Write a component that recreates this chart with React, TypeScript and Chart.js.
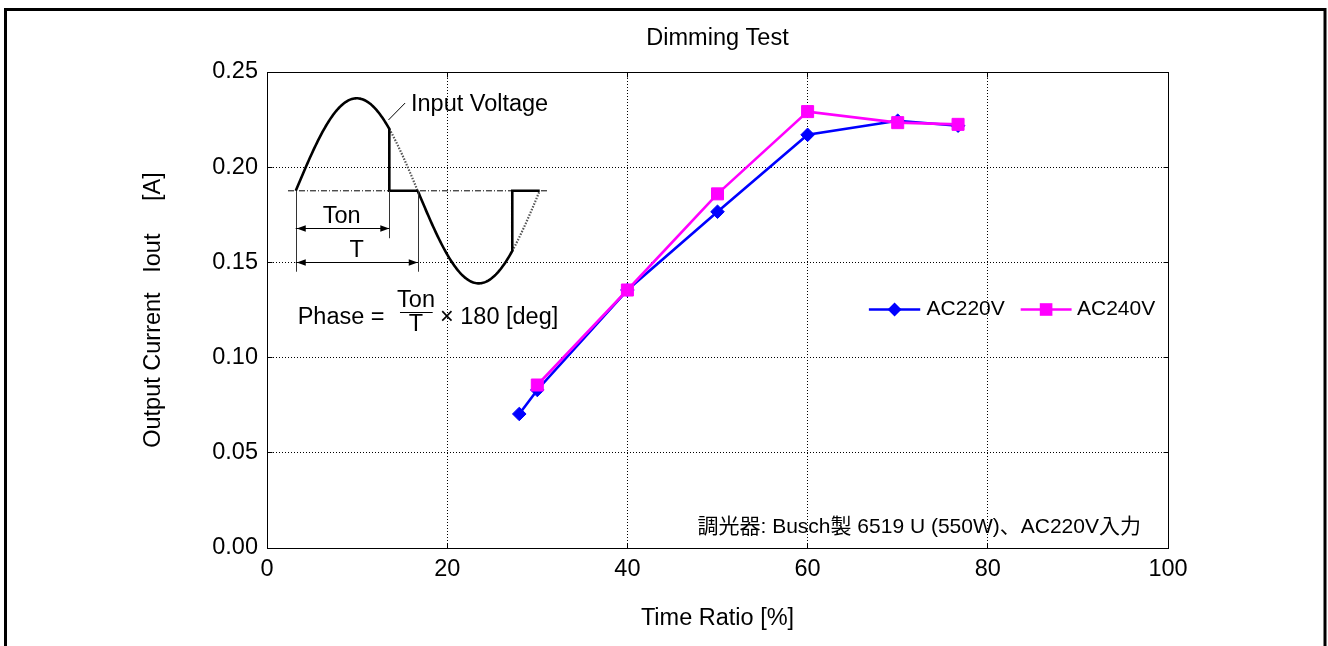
import React, { useEffect, useRef } from "react";
import { Chart, registerables } from "chart.js";

Chart.register(...registerables);

// ---- data ----
const seriesLabels = ["AC220V", "AC240V"];
const timeRatio220 = [28, 30, 40, 50, 60, 70, 76.7];
const current220 = [0.0704, 0.083, 0.1355, 0.1766, 0.217, 0.2244, 0.2218];
const timeRatio240 = [30, 40, 50, 60, 70, 76.7];
const current240 = [0.0856, 0.1355, 0.186, 0.2292, 0.2234, 0.2225];
const xTickValues = [0, 20, 40, 60, 80, 100];
const yTickValues = [0, 0.05, 0.1, 0.15, 0.2, 0.25];
const chartTitle = "Dimming Test";
const xAxisTitle = "Time Ratio [%]";
const yAxisTitle = "Output Current   Iout     [A]";
const noteText = "調光器: Busch製 6519 U (550W)、AC220V入力";

const FONT = '"Liberation Sans", Arial, sans-serif';
const FS = 23.5;
const BLUE = "#0000ff";
const MAGENTA = "#ff00ff";

function arrowHead(ctx: CanvasRenderingContext2D, x: number, y: number, dir: number) {
  ctx.beginPath();
  ctx.moveTo(x, y);
  ctx.lineTo(x - dir * 9, y - 3.2);
  ctx.lineTo(x - dir * 9, y + 3.2);
  ctx.closePath();
  ctx.fill();
}

const decorPlugin = {
  id: "decor",
  afterDraw(chart: any) {
    const ctx: CanvasRenderingContext2D = chart.ctx;
    const ca = chart.chartArea;
    const xs = chart.scales.x;
    const ys = chart.scales.y;
    const X = (v: number) => xs.getPixelForValue(v);
    const Y = (v: number) => ys.getPixelForValue(v);
    ctx.save();

    // outer frame
    ctx.strokeStyle = "#000";
    ctx.lineWidth = 3;
    ctx.setLineDash([]);
    ctx.strokeRect(5.5, 9.5, 1319.5, 700);

    // title
    ctx.fillStyle = "#000";
    ctx.font = `${FS}px ${FONT}`;
    ctx.textAlign = "center";
    ctx.textBaseline = "alphabetic";
    ctx.fillText(chartTitle, (ca.left + ca.right) / 2, 45);

    // plot box
    const L = Math.floor(ca.left) + 0.5;
    const T = Math.floor(ca.top) + 0.5;
    const R = Math.floor(ca.right) + 0.5;
    const B = Math.floor(ca.bottom) + 0.5;
    ctx.lineWidth = 1;
    ctx.strokeRect(L, T, R - L, B - T);
    // inner ticks
    ctx.beginPath();
    xTickValues.forEach((v) => {
      const px = Math.floor(X(v)) + 0.5;
      ctx.moveTo(px, B); ctx.lineTo(px, B - 5);
      ctx.moveTo(px, T); ctx.lineTo(px, T + 5);
    });
    yTickValues.forEach((v) => {
      const py = Math.floor(Y(v)) + 0.5;
      ctx.moveTo(L, py); ctx.lineTo(L + 5, py);
      ctx.moveTo(R, py); ctx.lineTo(R - 5, py);
    });
    ctx.stroke();

    // ---- inset diagram (in data units) ----
    const X0 = 3.19, H = 13.54, A = 0.0486, base = 0.1876;
    const cut1 = 0.767, cut2 = 0.775;
    const sinY = (x: number) => base + A * Math.sin((Math.PI * (x - X0)) / H);
    const path = (xa: number, xb: number) => {
      const n = 80;
      ctx.beginPath();
      for (let i = 0; i <= n; i++) {
        const x = xa + ((xb - xa) * i) / n;
        if (i === 0) ctx.moveTo(X(x), Y(sinY(x)));
        else ctx.lineTo(X(x), Y(sinY(x)));
      }
    };
    const c1 = X0 + cut1 * H;
    const c2 = X0 + H + cut2 * H;

    // dash-dot baseline
    ctx.setLineDash([6, 2, 1, 2]);
    ctx.lineWidth = 1;
    ctx.strokeStyle = "#000";
    ctx.beginPath();
    ctx.moveTo(X(2.33), Y(base));
    ctx.lineTo(X(31.08), Y(base));
    ctx.stroke();

    // dotted continuation
    ctx.setLineDash([1.5, 1.5]);
    ctx.strokeStyle = "#555";
    ctx.lineWidth = 2.2;
    path(c1, X0 + H); ctx.stroke();
    path(c2, X0 + 2 * H); ctx.stroke();

    // solid waveform
    ctx.setLineDash([]);
    ctx.strokeStyle = "#000";
    ctx.lineWidth = 2.6;
    ctx.lineJoin = "miter";
    path(X0, c1);
    ctx.lineTo(X(c1), Y(base));
    ctx.lineTo(X(X0 + H), Y(base));
    ctx.stroke();
    path(X0 + H, c2);
    ctx.lineTo(X(c2), Y(base));
    ctx.lineTo(X(X0 + 2 * H), Y(base));
    ctx.stroke();

    // extension lines
    ctx.lineWidth = 1;
    ctx.strokeStyle = "#333";
    ctx.beginPath();
    ctx.moveTo(Math.round(X(X0)) + 0.5, Y(base)); ctx.lineTo(Math.round(X(X0)) + 0.5, Y(0.1451));
    ctx.moveTo(Math.round(X(c1)) + 0.5, Y(base)); ctx.lineTo(Math.round(X(c1)) + 0.5, Y(0.1627));
    ctx.moveTo(Math.round(X(X0 + H)) + 0.5, Y(base)); ctx.lineTo(Math.round(X(X0 + H)) + 0.5, Y(0.1451));
    ctx.stroke();

    // dimension arrows
    ctx.strokeStyle = "#000";
    ctx.fillStyle = "#000";
    const yTon = Math.round(Y(0.1679)) + 0.5;
    const yT = Math.round(Y(0.15005)) + 0.5;
    ctx.beginPath();
    ctx.moveTo(X(X0), yTon); ctx.lineTo(X(c1), yTon);
    ctx.moveTo(X(X0), yT); ctx.lineTo(X(X0 + H), yT);
    ctx.stroke();
    arrowHead(ctx, X(X0) + 1, yTon, -1);
    arrowHead(ctx, X(c1), yTon, 1);
    arrowHead(ctx, X(X0) + 1, yT, -1);
    arrowHead(ctx, X(X0 + H), yT, 1);

    // leader line
    ctx.beginPath();
    ctx.moveTo(X(13.48), Y(0.2248));
    ctx.lineTo(X(15.33), Y(0.2337));
    ctx.stroke();

    // inset texts
    ctx.font = `${FS}px ${FONT}`;
    ctx.textBaseline = "alphabetic";
    ctx.textAlign = "left";
    ctx.fillText("Input Voltage", X(15.98), Y(0.2293));
    ctx.textAlign = "center";
    ctx.fillText("Ton", X(8.29), Y(0.1705));
    ctx.fillText("T", X(9.95), Y(0.153));
    ctx.textAlign = "left";
    ctx.fillText("Phase =", X(3.4), Y(0.1176));
    ctx.textAlign = "center";
    ctx.fillText("Ton", X(16.54), Y(0.1264));
    ctx.fillText("T", X(16.54), Y(0.1141));
    ctx.textAlign = "left";
    ctx.fillText("\u00d7 180 [deg]", X(19.2), Y(0.1176));
    ctx.lineWidth = 1.2;
    ctx.beginPath();
    const fy = Math.round(Y(0.1241)) + 0.5;
    ctx.moveTo(X(14.76), fy);
    ctx.lineTo(X(18.39), fy);
    ctx.stroke();

    // legend
    const ly = Math.round(Y(0.1254)) + 0.5;
    ctx.lineWidth = 2.6;
    ctx.strokeStyle = BLUE;
    ctx.fillStyle = BLUE;
    ctx.beginPath();
    ctx.moveTo(X(66.8), ly); ctx.lineTo(X(72.5), ly);
    ctx.stroke();
    const dx = X(69.65);
    ctx.beginPath();
    ctx.moveTo(dx - 7, ly); ctx.lineTo(dx, ly - 7); ctx.lineTo(dx + 7, ly); ctx.lineTo(dx, ly + 7);
    ctx.closePath(); ctx.fill();
    ctx.strokeStyle = MAGENTA;
    ctx.fillStyle = MAGENTA;
    ctx.beginPath();
    ctx.moveTo(X(83.65), ly); ctx.lineTo(X(89.3), ly);
    ctx.stroke();
    const sx = X(86.47);
    ctx.fillRect(sx - 6.3, ly - 6.3, 12.6, 12.6);
    ctx.fillStyle = "#000";
    ctx.font = `21px ${FONT}`;
    ctx.textAlign = "left";
    ctx.fillText(seriesLabels[0], X(73.2), ly + 5.7);
    ctx.fillText(seriesLabels[1], X(89.9), ly + 5.7);

    // note
    ctx.font = `21px ${FONT}, "Noto Sans CJK JP"`;
    ctx.textAlign = "right";
    ctx.fillText(noteText, X(97.0), Y(0.0077));

    ctx.restore();
  },
};

export default function App() {
  const ref = useRef<HTMLCanvasElement | null>(null);
  useEffect(() => {
    document.body.style.margin = "0";
    const canvas = ref.current;
    if (!canvas) return;
    const font = { family: FONT, size: FS };
    const gridColor = (c: any) => {
      const i = c.index;
      const n = c.scale.ticks.length;
      return i === 0 || i === n - 1 ? "rgba(0,0,0,0)" : "#000";
    };
    const chart = new Chart(canvas, {
      type: "line",
      data: {
        datasets: [
          {
            label: seriesLabels[0],
            data: timeRatio220.map((x, i) => ({ x, y: current220[i] })),
            borderColor: BLUE,
            backgroundColor: BLUE,
            borderWidth: 2.6,
            pointStyle: "rectRot",
            pointRadius: 6.8,
            pointBorderWidth: 1,
            fill: false,
            tension: 0,
            order: 2,
          },
          {
            label: seriesLabels[1],
            data: timeRatio240.map((x, i) => ({ x, y: current240[i] })),
            borderColor: MAGENTA,
            backgroundColor: MAGENTA,
            borderWidth: 2.6,
            pointStyle: "rect",
            pointRadius: 8.5,
            pointBorderWidth: 1,
            fill: false,
            tension: 0,
            order: 1,
          },
        ],
      },
      options: {
        animation: false,
        responsive: false,
        devicePixelRatio: 1,
        layout: { padding: { left: 0, right: 160, top: 72, bottom: 0 } },
        plugins: {
          legend: { display: false },
          title: { display: false },
          tooltip: { enabled: false },
        },
        scales: {
          x: {
            type: "linear",
            min: 0,
            max: 100,
            afterFit: (s: any) => { s.height = 98; },
            afterBuildTicks: (s: any) => { s.ticks = xTickValues.map((v) => ({ value: v })); },
            ticks: { font, color: "#000", padding: 7, maxRotation: 0, autoSkip: false, callback: (v: any) => String(v) },
            grid: { color: gridColor, lineWidth: 1, drawTicks: false },
            border: { display: false, dash: [1, 2] },
            title: { display: true, text: xAxisTitle, font, color: "#000", padding: { top: 0, bottom: 13.4 } },
          },
          y: {
            type: "linear",
            min: 0,
            max: 0.25,
            afterFit: (s: any) => { s.width = 267; },
            afterBuildTicks: (s: any) => { s.ticks = yTickValues.map((v) => ({ value: v })); },
            ticks: { font, color: "#000", padding: 9, autoSkip: false, callback: (v: any) => Number(v).toFixed(2) },
            grid: { color: gridColor, lineWidth: 1, drawTicks: false },
            border: { display: false, dash: [1, 2] },
            title: { display: true, text: yAxisTitle, font, color: "#000", padding: { top: 139.4, bottom: 0 } },
          },
        },
      },
      plugins: [decorPlugin],
    } as any);
    return () => chart.destroy();
  }, []);
  return <canvas ref={ref} width={1328} height={646} style={{ display: "block" }} />;
}
